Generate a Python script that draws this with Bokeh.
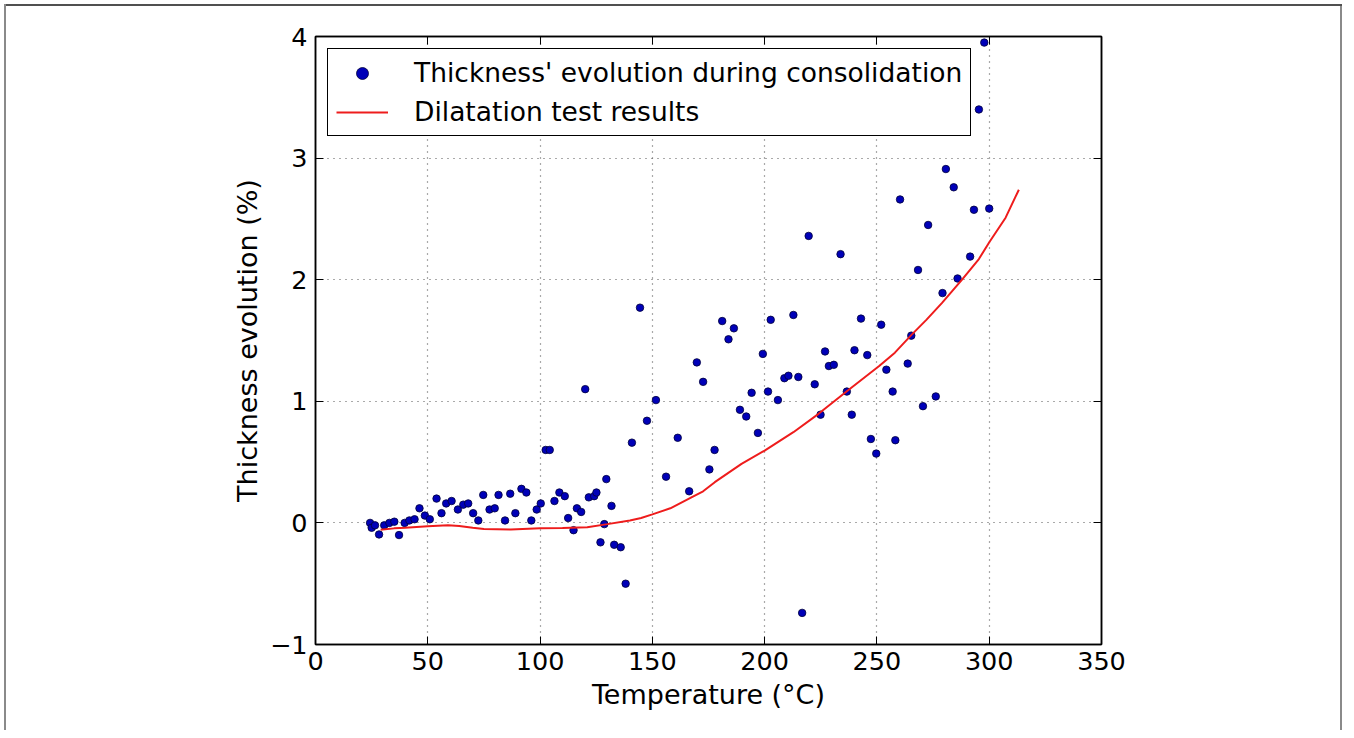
from bokeh.plotting import figure
from bokeh.models import Range1d, LinearAxis, FixedTicker, Legend, LegendItem
from bokeh.embed import file_html
from bokeh.resources import INLINE

# --- data -------------------------------------------------------------
temp_pts = [24.3, 25.0, 26.5, 28.3, 30.6, 32.9, 35.1, 37.2, 39.7, 41.8,
            44.1, 46.3, 48.7, 50.9, 53.9, 56.1, 58.2, 60.6, 63.4, 65.8,
            68.0, 70.2, 72.5, 74.7, 77.5, 79.8, 81.5, 84.4, 86.7, 89.0,
            91.7, 93.9, 96.1, 98.5, 100.3, 102.5, 104.3, 106.4, 108.6, 111.0,
            112.5, 114.9, 116.4, 118.3, 120.1, 121.7, 124.1, 125.1, 126.9, 128.6,
            129.5, 131.8, 133.0, 135.9, 138.1, 140.9, 144.5, 147.6, 151.6, 156.1,
            161.3, 166.4, 169.8, 172.6, 175.4, 177.7, 181.1, 183.9, 186.3, 189.0,
            191.8, 194.2, 197.0, 199.2, 201.5, 202.7, 205.9, 208.8, 210.6, 212.8,
            215.0, 216.7, 219.6, 222.3, 224.9, 226.9, 228.6, 230.8, 233.8, 236.6,
            238.8, 240.0, 242.9, 245.7, 247.3, 249.7, 251.9, 254.2, 257.0, 258.2,
            260.3, 263.7, 265.3, 268.3, 270.5, 272.8, 276.2, 279.2, 280.7, 284.2,
            285.9, 291.5, 293.2, 295.4, 297.8, 300.0]
thick_pts = [0.00, -0.04, -0.02, -0.095, -0.02, 0.00, 0.01, -0.10, 0.00, 0.02,
             0.03, 0.12, 0.06, 0.03, 0.20, 0.08, 0.16, 0.18, 0.11, 0.15,
             0.16, 0.08, 0.02, 0.23, 0.11, 0.12, 0.23, 0.02, 0.24, 0.08,
             0.28, 0.25, 0.02, 0.11, 0.16, 0.60, 0.60, 0.18, 0.25, 0.22,
             0.04, -0.06, 0.12, 0.09, 1.10, 0.21, 0.22, 0.25, -0.16, -0.01,
             0.36, 0.14, -0.18, -0.20, -0.50, 0.66, 1.77, 0.84, 1.01, 0.38,
             0.70, 0.26, 1.32, 1.16, 0.44, 0.60, 1.66, 1.51, 1.60, 0.93,
             0.875, 1.07, 0.74, 1.39, 1.08, 1.67, 1.01, 1.19, 1.21, 1.71,
             1.20, -0.74, 2.36, 1.14, 0.89, 1.41, 1.29, 1.30, 2.21, 1.08,
             0.89, 1.42, 1.68, 1.38, 0.69, 0.57, 1.63, 1.26, 1.08, 0.68,
             2.66, 1.31, 1.54, 2.08, 0.96, 2.45, 1.04, 1.89, 2.91, 2.76,
             2.01, 2.19, 2.575, 3.40, 3.95, 2.585]

temp_line = [29, 35, 40, 50, 59, 64, 70, 75, 87, 100, 110, 121, 130, 140,
             145, 150, 158, 167.4, 172.6, 177.8, 189.7, 200, 212.8, 224,
             236.6, 251, 258, 265.6, 272, 279, 287.9, 295.4, 300.1, 307.3, 313.2]
thick_line = [-0.057, -0.045, -0.04, -0.027, -0.02, -0.025, -0.04, -0.05,
              -0.055, -0.044, -0.042, -0.035, -0.01, 0.02, 0.04, 0.07, 0.12,
              0.21, 0.26, 0.335, 0.486, 0.595, 0.746, 0.897, 1.083, 1.29,
              1.40, 1.55, 1.67, 1.81, 2.0, 2.17, 2.31, 2.51, 2.74]

x_ticks = [0, 50, 100, 150, 200, 250, 300, 350]
y_ticks = [-1, 0, 1, 2, 3, 4]
y_overrides = {-1: "\u22121"}

label_pts = "Thickness' evolution during consolidation"
label_line = "Dilatation test results"
x_title = "Temperature (\u00b0C)"
y_title = "Thickness evolution (%)"

FONT = "DejaVu Sans"
FS_TICK = "25.5px"
FS_TITLE = "27px"
FS_LEG = "26.5px"

# --- figure -----------------------------------------------------------
p = figure(width=1346, height=730, output_backend="svg", toolbar_location=None,
           x_range=Range1d(0, 350), y_range=Range1d(-1, 4),
           min_border_left=315, min_border_right=245,
           min_border_top=36, min_border_bottom=86,
           x_axis_label=x_title, y_axis_label=y_title)
# outer picture frame on left, top and right only
p.styles = {"box-shadow": ("inset 4px 0 0 0 white, inset 0 4px 0 0 white, "
                           "inset -4px 0 0 0 white, "
                           "inset 6px 0 0 0 #8a8a8a, inset 0 6px 0 0 #505050, "
                           "inset -6px 0 0 0 #8a8a8a"),
            "background-color": "white"}
p.background_fill_color = "white"
p.border_fill_color = None
p.outline_line_color = "black"
p.outline_line_width = 1.5
p.outline_line_alpha = 1.0

for ax in (p.xaxis[0], p.yaxis[0]):
    ax.axis_label_text_font = FONT
    ax.axis_label_text_font_size = FS_TITLE
    ax.axis_label_text_font_style = "normal"
    ax.axis_label_text_color = "black"
    ax.major_label_text_font = FONT
    ax.major_label_text_font_size = FS_TICK
    ax.major_label_text_color = "black"
    ax.major_tick_in = 8
    ax.major_tick_out = 0
    ax.major_tick_line_color = "black"
    ax.minor_tick_line_color = None
    ax.axis_line_color = "black"
    ax.axis_line_width = 1.5

p.xaxis[0].ticker = FixedTicker(ticks=x_ticks)
p.yaxis[0].ticker = FixedTicker(ticks=y_ticks)
p.yaxis[0].major_label_overrides = y_overrides
p.xaxis[0].major_label_standoff = 7
p.yaxis[0].major_label_standoff = 8
p.xaxis[0].axis_label_standoff = 6
p.yaxis[0].axis_label_standoff = 4

# ticks-only axes on top and right
for loc, ticks in (("above", x_ticks), ("right", y_ticks)):
    ax = LinearAxis(ticker=FixedTicker(ticks=ticks))
    ax.major_label_text_font_size = "0px"
    ax.major_label_text_color = None
    ax.major_tick_in = 8
    ax.major_tick_out = 0
    ax.major_tick_line_color = "black"
    ax.minor_tick_line_color = None
    ax.axis_line_color = "black"
    ax.axis_line_width = 1.5
    ax.major_label_standoff = 0
    p.add_layout(ax, loc)

p.xgrid.ticker = FixedTicker(ticks=x_ticks)
p.ygrid.ticker = FixedTicker(ticks=y_ticks)
for g in (p.xgrid[0], p.ygrid[0]):
    g.grid_line_color = "#555555"
    g.grid_line_dash = "1 5"
    g.grid_line_width = 1.2

r_pts = p.scatter(temp_pts, thick_pts, size=7.5, fill_color="#0000b8",
                  line_color="#00003a", line_width=0.8)
r_line = p.line(temp_line, thick_line, line_color="#ee1c1c", line_width=2)

legend = Legend(items=[LegendItem(label=label_pts, renderers=[r_pts]),
                       LegendItem(label=label_line, renderers=[r_line])],
                location="top_left")
legend.margin = 12
legend.padding = 8
legend.spacing = 8
legend.glyph_width = 52
legend.glyph_height = 30
legend.label_height = 30
legend.label_standoff = 26
legend.label_text_font = FONT
legend.label_text_font_size = FS_LEG
legend.label_text_color = "black"
legend.border_line_color = "black"
legend.border_line_width = 1.5
legend.border_line_alpha = 1.0
legend.background_fill_color = "white"
legend.background_fill_alpha = 1.0
p.add_layout(legend)

open("out.html", "w").write(file_html(p, INLINE))
